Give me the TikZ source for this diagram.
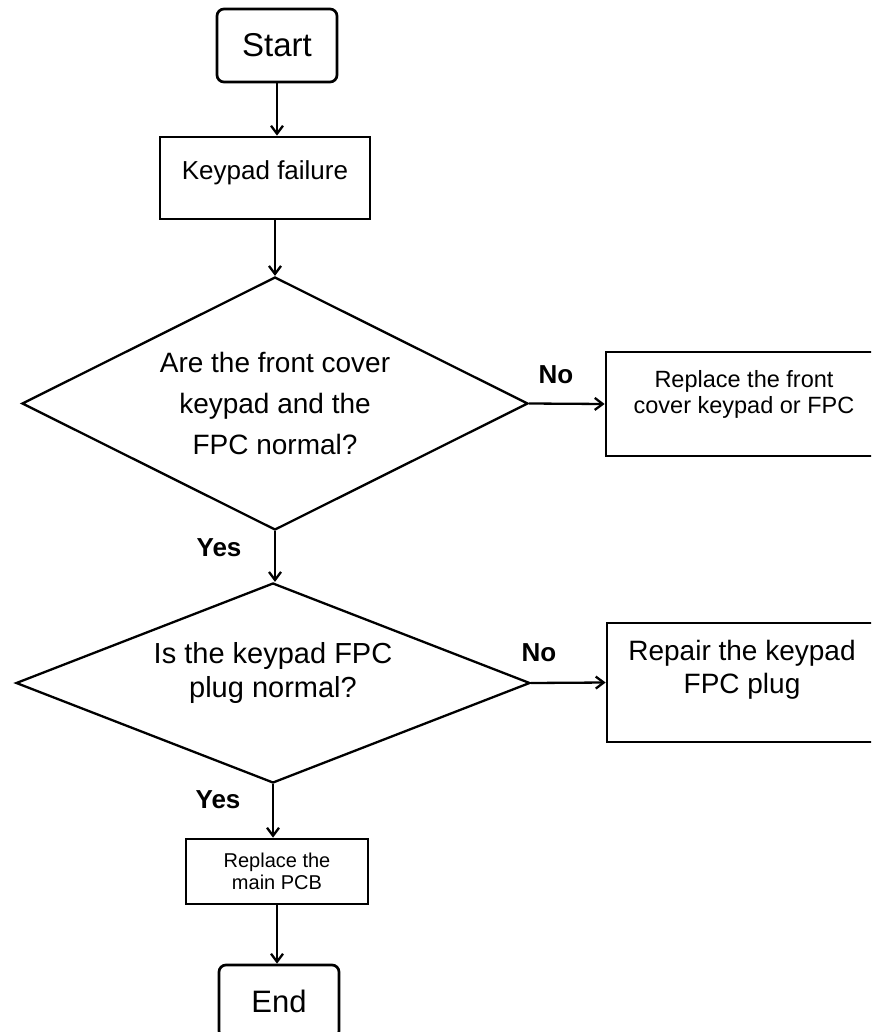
\documentclass[tikz,border=0pt]{standalone}
\usepackage{fontspec}
\setmainfont{Liberation Sans}
\usetikzlibrary{arrows.meta, shapes.geometric}

\tikzset{
  base/.style={draw, line width=2.7pt, align=center, inner sep=2pt},
  term/.style={base, rounded corners=7pt, minimum width=120pt, minimum height=73pt},
  proc/.style={base, rectangle},
  decision/.style={draw, line width=2.3pt, diamond, shape aspect=2.6, inner sep=0pt, align=center},
  flow/.style={line width=2.3pt, -{Straight Barb[length=8pt,width=12pt]}},
  lbl/.style={font=\fontsize{26}{30}\selectfont\bfseries},
}

\begin{document}
\begin{tikzpicture}[x=1pt, y=-1pt]
  \useasboundingbox (0,0) rectangle (871,1032);
  \clip (0,0) rectangle (871,1032);

  \node[term, font=\fontsize{33}{36}\selectfont] (start) at (277,45.5) {Start};
  \node[proc, minimum width=210pt, minimum height=82pt, text depth=15pt, font=\fontsize{26}{30}\selectfont] (fail) at (265,178) {Keypad failure};
  \node[decision, minimum width=506pt, minimum height=253pt, font=\fontsize{28}{41}\selectfont] (check1) at (275,403.5) {Are the front cover\\keypad and the\\FPC normal?};
  \node[proc, minimum width=276pt, minimum height=104pt, text depth=25pt, font=\fontsize{23.5}{26}\selectfont] (fix1) at (744,404) {Replace the front\\cover keypad or FPC};
  \node[decision, minimum width=514pt, minimum height=200pt, text depth=26pt, font=\fontsize{29}{34}\selectfont] (check2) at (273,683) {Is the keypad FPC\\plug normal?};
  \node[proc, minimum width=270pt, minimum height=119pt, text depth=31pt, font=\fontsize{28}{33}\selectfont] (fix2) at (742,682.5) {Repair the keypad\\FPC plug};
  \node[proc, minimum width=182pt, minimum height=65pt, font=\fontsize{20}{22}\selectfont] (pcb) at (277,871.5) {Replace the\\main PCB};
  \node[term, font=\fontsize{31}{36}\selectfont] (end) at (279,1001.5) {End};

  % branch labels
  \node[lbl] (no1) at (556,375) {No};
  \node[lbl] (no2) at (539,653) {No};
  \node[lbl] (yes1) at (219,548) {Yes};
  \node[lbl] (yes2) at (218,800) {Yes};

  \draw[flow] (start.south) -- (start.south |- fail.north);
  \draw[flow] (check1.north |- fail.south) -- (check1.north);
  \draw[flow] (check1.south) -- (check1.south |- check2.north);
  \draw[flow] (check1.east) -- (fix1.west);
  \draw[flow] (check2.east) -- (fix2.west);
  \draw[flow] (check2.south) -- (check2.south |- pcb.north);
  \draw[flow] (pcb.south) -- (pcb.south |- end.north);
\end{tikzpicture}
\end{document}
